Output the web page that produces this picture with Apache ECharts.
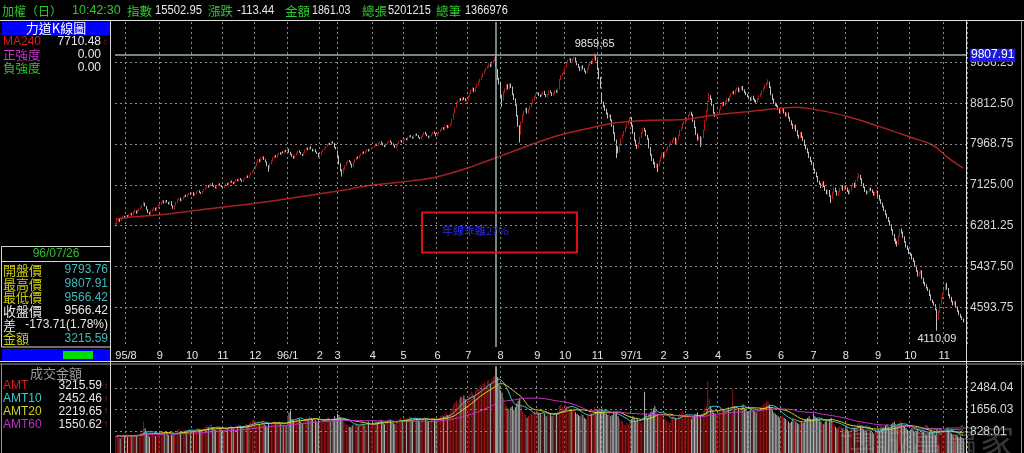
<!DOCTYPE html>
<html><head><meta charset="utf-8">
<script src="https://cdn.jsdelivr.net/npm/echarts@6/dist/echarts.min.js"></script>
<style>html,body{margin:0;padding:0;background:#000;overflow:hidden}#c{width:1024px;height:453px}</style>
</head><body><div id="c"></div>
<script>
// ---------------- data ----------------
const monthStarts = [7,30,52,73,95,117,139,151,175,196,219,240,262,287,306,328,331,351,373,388,410,431,453,475,497,519,541,564];
const monthLabels = ['95/8','9','10','11','12','96/1','2','3','4','5','6','7','8','9','10','11','','97/1','2','3','4','5','6','7','8','9','10','11'];
const priceTicks = [4593.75,5437.50,6281.25,7125.00,7968.75,8812.50,9656.25];
const amtTicks = [828.01,1656.03,2484.04];
const cursorIndex = 259;
const cursorPrice = 9807.91;
const peakIndex = 326;
const lowIndex = 559;

const OPEN = [
6290,6340,6400,6410,6390,6445,6475,
6460,6485,6465,6515,6535,6505,6565,6585,6545,6605,6625,6655,6705,6750,6680,6615,6555,6525,6585,6615,6645,6605,6655,
6705,6725,6765,6795,6745,6805,6765,6725,6785,6695,6635,6695,6765,6825,6855,6795,6835,6875,6905,6875,6925,6955,
6935,6965,6905,6945,6985,7005,6965,6955,6995,7035,7065,7105,7075,7135,7155,7105,7085,7055,7105,7145,7115,
7085,7075,7115,7155,7125,7175,7205,7175,7145,7195,7235,7205,7255,7225,7195,7245,7275,7305,7275,7335,7375,7415,
7460,7525,7585,7645,7605,7685,7705,7645,7595,7515,7475,7565,7625,7685,7725,7695,7755,7785,7755,7805,7785,7825,
7835,7865,7795,7755,7715,7695,7745,7785,7825,7795,7755,7745,7795,7845,7885,7855,7905,7865,7825,7855,7805,7775,
7695,7745,7805,7855,7885,7925,7955,7985,7965,8005,7985,7895,
7830,7715,7555,7425,7375,7455,7525,7585,7625,7595,7555,7495,7585,7645,7705,7675,7735,7765,7805,7775,7825,7855,7825,7875,
7885,7905,7935,7965,7935,7985,8015,7985,7945,7915,7975,8005,8035,8005,7975,7945,7895,7935,7985,8025,8045,
8015,8055,8085,8055,8105,8145,8115,8085,8135,8175,8145,8105,8075,8125,8165,8205,8175,8135,8095,8135,8175,8215,8185,
8145,8185,8225,8265,8305,8275,8325,8355,8305,8345,8385,8485,8605,8725,8825,8865,8905,8875,8925,8905,8865,
8885,8955,9015,9085,9125,9055,9145,9205,9265,9305,9365,9425,9485,9535,9565,9625,9585,9655,9695,9793.76,9500,9300,
9250,8950,8870,9045,9105,9185,9115,9205,9145,8995,8895,8770,8550,8340,8175,8425,8565,8645,8705,8615,8685,8745,8805,8885,8945,
9005,9025,8975,8955,9015,9055,8995,8945,8995,9065,9035,8975,9015,9075,9035,9105,9305,9385,9425,
9455,9565,9655,9705,9735,9685,9725,9755,9675,9615,9555,9495,9585,9525,9475,9455,9525,9605,9665,9635,9725,9795,
9700,9515,9335,
9000,8815,8745,8675,8595,8515,8565,8465,8345,8195,8045,7895,7815,7955,8085,8155,8225,8305,8385,8455,
8500,8345,8195,8045,7945,7895,7985,8105,8205,8285,8245,8145,8075,7895,7745,7645,7575,7495,7545,7515,7615,7705,
7785,7715,7805,7855,7905,7965,8005,8055,8105,7975,8065,8155,8255,8305,8385,
8425,8445,8505,8565,8625,8575,8445,8315,8175,8055,8125,7985,8105,8255,8455,8655,8855,8955,8895,8775,8615,8545,
8575,8605,8685,8755,8825,8775,8855,8905,8865,8955,9005,9055,9015,9085,9125,9055,9105,9155,9085,9035,8995,
8955,8915,8875,8955,8895,8855,8845,8905,8965,9005,9065,9125,9185,9225,9245,9145,8995,8895,8815,8775,8755,8695,
8615,8655,8705,8615,8555,8605,8515,8445,8375,8295,8355,8245,8145,8105,8205,8115,8045,7945,7875,7795,7695,7615,
7555,7445,7375,7295,7195,7145,7075,7185,7095,7015,6945,7005,6895,6845,6955,7055,6995,6915,6985,7055,7105,7015,
7085,7045,6995,6945,7025,7105,7155,7075,7205,7285,7315,7245,7145,7075,6995,6945,6985,7055,7015,6975,6915,6965,
6995,6905,6815,6745,6675,6595,6515,6445,6375,6295,6195,6095,5995,5945,5905,6055,6185,6145,6045,5945,5845,5795,
5715,5675,5595,5545,5445,5345,5245,5295,5345,5195,5095,5045,4995,4945,4845,4745,4695,4645,4545,4365,4505,4655,4785,
4875,4955,5025,4975,4845,4795,4715,4645,4705,4595,4515,4445,4395,4345
];
const HIGH = [
6345,6410,6440,6425,6450,6490,6485,
6495,6500,6525,6550,6545,6575,6610,6595,6615,6640,6670,6720,6780,6760,6690,6625,6565,6595,6625,6660,6655,6665,6715,
6735,6775,6810,6805,6815,6815,6775,6795,6790,6705,6700,6770,6830,6865,6860,6840,6885,6915,6920,6935,6965,6970,
6975,6975,6950,6990,7015,7015,6975,7000,7040,7070,7115,7120,7140,7165,7170,7115,7095,7110,7155,7160,7125,
7100,7120,7160,7165,7180,7210,7215,7185,7200,7240,7245,7260,7265,7235,7250,7280,7315,7320,7340,7385,7420,7465,
7530,7595,7660,7660,7695,7720,7715,7655,7605,7530,7575,7635,7695,7735,7740,7765,7795,7800,7815,7820,7835,7850,
7880,7875,7810,7770,7730,7755,7795,7835,7840,7805,7765,7800,7855,7895,7900,7915,7920,7875,7865,7865,7815,7785,
7750,7815,7865,7895,7935,7965,7995,7995,8015,8030,7995,7910,
7840,7730,7570,7450,7470,7535,7595,7635,7640,7610,7565,7595,7655,7715,7715,7745,7775,7815,7815,7835,7865,7865,7885,7900,
7915,7945,7975,7975,7995,8025,8025,7995,7955,7985,8015,8045,8045,8015,7985,7955,7945,7995,8035,8055,8055,
8065,8095,8095,8115,8155,8155,8125,8145,8185,8185,8155,8115,8135,8175,8215,8220,8185,8145,8145,8185,8225,8230,8195,
8195,8235,8275,8315,8320,8335,8365,8365,8355,8395,8495,8615,8735,8840,8880,8920,8920,8940,8940,8920,8900,
8965,9025,9095,9140,9135,9155,9215,9275,9320,9375,9440,9495,9545,9585,9640,9635,9670,9710,9760,9807.91,9520,9340,
9260,8990,9060,9120,9200,9210,9220,9225,9160,9010,8910,8790,8570,8360,8440,8580,8660,8720,8720,8700,8760,8820,8900,8960,9020,
9045,9040,8995,9025,9065,9070,9005,9005,9075,9080,9045,9025,9085,9090,9115,9315,9395,9435,9470,
9575,9665,9720,9760,9745,9740,9775,9765,9690,9630,9570,9595,9600,9540,9490,9535,9615,9680,9690,9735,9859.65,9810,
9720,9540,9360,
9020,8850,8770,8700,8620,8580,8580,8480,8360,8210,8060,7920,7965,8095,8170,8240,8320,8400,8470,8530,
8530,8370,8215,8060,7970,8000,8120,8215,8300,8310,8260,8160,8090,7910,7760,7670,7600,7570,7560,7630,7720,7800,
7800,7820,7870,7920,7980,8020,8070,8120,8110,8080,8170,8270,8320,8400,8440,
8470,8520,8580,8640,8640,8590,8460,8330,8190,8140,8130,8120,8270,8470,8670,8870,9030,8980,8910,8790,8630,8590,
8620,8700,8770,8840,8840,8870,8920,8920,8970,9020,9070,9070,9100,9140,9140,9120,9170,9170,9100,9050,9010,
8970,8940,8970,8970,8910,8880,8920,8980,9020,9080,9140,9200,9240,9309,9260,9160,9010,8910,8830,8800,8770,8710,
8680,8720,8720,8630,8620,8620,8530,8460,8390,8370,8370,8260,8160,8220,8220,8130,8060,7960,7890,7810,7710,7630,
7570,7460,7390,7310,7210,7160,7200,7200,7110,7030,7020,7020,6910,6970,7070,7070,7010,7000,7070,7120,7120,7100,
7100,7070,7010,7040,7120,7170,7170,7220,7300,7370,7330,7260,7160,7090,7010,7000,7070,7070,7030,6990,6980,7020,
7010,6920,6830,6760,6690,6610,6530,6460,6390,6310,6210,6110,6020,5970,6080,6210,6220,6160,6060,5960,5870,5810,
5730,5700,5620,5560,5460,5360,5320,5370,5360,5210,5120,5070,5010,4960,4860,4760,4710,4660,4560,4520,4670,4800,4890,
4970,5080,5100,4990,4870,4810,4730,4720,4720,4610,4530,4460,4410,4360
];
const LOW = [
6260,6320,6370,6360,6380,6430,6440,
6450,6445,6455,6500,6490,6495,6550,6530,6535,6590,6615,6645,6695,6680,6610,6545,6505,6515,6575,6600,6590,6595,6645,
6690,6715,6755,6740,6740,6760,6720,6715,6690,6630,6620,6690,6755,6815,6790,6785,6825,6865,6870,6865,6915,6920,
6925,6900,6895,6935,6975,6960,6935,6945,6985,7025,7055,7070,7070,7125,7100,7080,7050,7045,7095,7110,7080,
7060,7065,7105,7120,7115,7165,7170,7140,7135,7185,7200,7195,7220,7190,7185,7235,7265,7270,7265,7325,7365,7405,
7450,7510,7570,7595,7595,7670,7640,7590,7510,7400,7460,7550,7610,7675,7690,7685,7745,7750,7745,7780,7775,7800,
7820,7790,7745,7705,7665,7685,7735,7775,7790,7750,7720,7735,7785,7835,7845,7845,7860,7815,7815,7800,7765,7690,
7685,7735,7795,7845,7875,7915,7945,7950,7955,7980,7890,7860,
7700,7545,7400,7300,7360,7440,7515,7575,7590,7545,7480,7490,7575,7635,7665,7670,7725,7755,7770,7770,7815,7815,7815,7860,
7870,7895,7925,7930,7925,7975,7980,7940,7905,7905,7965,7995,8000,7970,7940,7890,7880,7925,7975,8015,8000,
8005,8045,8050,8045,8095,8110,8080,8075,8125,8140,8100,8070,8065,8115,8155,8170,8130,8090,8085,8125,8165,8180,8130,
8130,8175,8215,8255,8265,8265,8315,8295,8295,8335,8375,8475,8595,8715,8810,8850,8860,8860,8880,8855,8850,
8870,8940,9005,9070,9040,9045,9135,9190,9250,9290,9350,9415,9470,9520,9550,9560,9570,9640,9680,9566.42,9300,9200,
8930,8740,8860,9020,9090,9100,9100,9130,8980,8880,8760,8540,8330,8000,8160,8410,8550,8630,8600,8600,8670,8730,8790,8870,8930,
8990,8965,8940,8945,9000,8985,8935,8930,8985,9030,8965,8960,9005,9030,9020,9095,9290,9370,9410,
9440,9550,9640,9690,9670,9675,9710,9670,9600,9545,9480,9480,9515,9465,9420,9440,9510,9590,9625,9625,9710,9690,
9500,9310,9120,
8800,8730,8660,8580,8500,8500,8450,8330,8180,8030,7680,7780,7800,7940,8070,8140,8210,8290,8370,8440,
8330,8180,8030,7930,7870,7880,7970,8090,8190,8230,8130,8060,7880,7730,7620,7550,7470,7480,7390,7500,7600,7690,
7700,7700,7790,7840,7895,7950,7990,8040,7960,7960,8050,8140,8240,8290,8370,
8410,8430,8490,8550,8560,8430,8300,8160,8040,8040,7910,7970,8090,8240,8440,8640,8840,8880,8760,8600,8530,8530,
8560,8590,8670,8740,8760,8760,8840,8850,8850,8940,8990,9000,9000,9070,9040,9040,9090,9070,9020,8980,8940,
8900,8860,8860,8880,8840,8820,8830,8890,8950,8990,9050,9110,9170,9200,9130,8980,8880,8800,8760,8740,8680,8600,
8600,8640,8600,8540,8540,8500,8430,8360,8280,8280,8230,8130,8080,8090,8100,8030,7930,7860,7780,7680,7600,7540,
7430,7360,7280,7180,7130,7060,7060,7080,7000,6930,6930,6880,6750,6830,6940,6980,6900,6900,6970,7040,7000,7000,
7030,6980,6930,6930,7010,7090,7060,7060,7190,7270,7230,7130,7060,6980,6930,6930,6970,7000,6960,6900,6900,6950,
6880,6800,6730,6660,6580,6500,6430,6360,6280,6180,6080,5960,5900,5850,5890,6040,6120,6030,5930,5830,5780,5690,
5660,5580,5530,5430,5330,5230,5230,5280,5180,5080,5030,4980,4930,4830,4730,4680,4630,4530,4110.09,4330,4480,4640,4760,
4860,4940,4960,4830,4780,4700,4630,4630,4590,4500,4430,4380,4330,4280
];
const CLOSE = [
6330,6395,6420,6385,6440,6470,6455,
6480,6460,6510,6530,6500,6560,6590,6540,6600,6620,6650,6700,6740,6690,6620,6560,6520,6580,6610,6640,6600,6650,6700,
6720,6760,6790,6750,6800,6770,6730,6780,6700,6640,6690,6760,6820,6850,6800,6830,6870,6900,6880,6920,6950,6930,
6960,6910,6940,6980,7000,6970,6950,6990,7030,7060,7100,7080,7130,7150,7110,7090,7060,7100,7140,7120,7090,
7080,7110,7150,7130,7170,7200,7180,7150,7190,7230,7210,7250,7230,7200,7240,7270,7300,7280,7330,7370,7410,7450,
7520,7580,7640,7610,7680,7700,7650,7600,7520,7480,7560,7620,7680,7720,7700,7750,7780,7760,7800,7790,7820,7823,
7860,7800,7760,7720,7690,7740,7780,7820,7800,7760,7740,7790,7840,7880,7860,7900,7870,7830,7850,7810,7780,7700,
7740,7800,7850,7880,7920,7950,7980,7960,8000,7990,7900,7880,
7720,7560,7420,7380,7450,7520,7580,7620,7600,7560,7500,7580,7640,7700,7680,7730,7760,7800,7780,7820,7850,7830,7870,7880,
7900,7930,7960,7940,7980,8010,7990,7950,7920,7970,8000,8030,8010,7980,7950,7900,7930,7980,8020,8040,8010,
8050,8080,8060,8100,8140,8120,8090,8130,8170,8150,8110,8080,8120,8160,8200,8180,8140,8100,8130,8170,8210,8190,8140,
8180,8220,8260,8300,8280,8320,8350,8310,8340,8380,8480,8600,8720,8820,8860,8900,8880,8920,8900,8870,8880,
8950,9010,9080,9120,9060,9140,9200,9260,9300,9360,9420,9480,9530,9560,9620,9580,9650,9690,9740.13,9566.42,9330,9250,
8960,8880,9040,9100,9180,9120,9200,9150,9000,8900,8780,8560,8350,8180,8420,8560,8640,8700,8620,8680,8740,8800,8880,8940,9000,
9020,8980,8960,9010,9050,9000,8950,8990,9060,9040,8980,9010,9070,9040,9100,9300,9380,9420,9450,
9560,9650,9700,9730,9690,9720,9750,9680,9620,9560,9500,9580,9530,9480,9460,9520,9600,9660,9640,9720,9800,9711,
9520,9340,9150,
8820,8750,8680,8600,8520,8560,8470,8350,8200,8050,7900,7820,7950,8080,8150,8220,8300,8380,8450,8506,
8350,8200,8050,7950,7900,7980,8100,8200,8280,8250,8150,8080,7900,7750,7650,7580,7500,7540,7520,7610,7700,7780,
7720,7800,7850,7900,7960,8000,8050,8100,7980,8060,8150,8250,8300,8380,8420,
8450,8500,8560,8620,8580,8450,8320,8180,8060,8120,7990,8100,8250,8450,8650,8850,8950,8900,8780,8620,8550,8570,
8600,8680,8750,8820,8780,8850,8900,8870,8950,9000,9050,9020,9080,9120,9060,9100,9150,9090,9040,9000,8960,
8920,8880,8950,8900,8860,8840,8900,8960,9000,9060,9120,9180,9220,9250,9150,9000,8900,8820,8780,8760,8700,8620,
8650,8700,8620,8560,8600,8520,8450,8380,8300,8350,8250,8150,8100,8200,8120,8050,7950,7880,7800,7700,7620,7560,
7450,7380,7300,7200,7150,7080,7180,7100,7020,6950,7000,6900,6850,6950,7050,7000,6920,6980,7050,7100,7020,7080,
7050,7000,6950,7020,7100,7150,7080,7200,7280,7320,7250,7150,7080,7000,6950,6980,7050,7020,6980,6920,6960,7000,
6900,6820,6750,6680,6600,6520,6450,6380,6300,6200,6100,6000,5950,5900,6050,6180,6150,6050,5950,5850,5800,5720,
5680,5600,5550,5450,5350,5250,5300,5350,5200,5100,5050,5000,4950,4850,4750,4700,4650,4550,4366,4500,4650,4780,4870,
4950,5020,4980,4850,4800,4720,4650,4700,4600,4520,4450,4400,4350,4300
];
const AMOUNT = [
620,700,680,560,640,700,660,
720,600,650,700,620,680,720,650,700,740,780,900,1200,950,780,700,620,680,720,740,650,700,760,
780,820,850,760,800,740,680,720,700,760,690,780,880,920,800,820,860,900,850,880,920,880,
900,820,840,900,960,880,820,860,940,980,1050,990,1080,1100,980,920,880,940,1000,960,900,
880,920,980,940,1000,1050,1000,940,980,1060,1020,1080,1040,960,1020,1080,1120,1060,1150,1200,1240,1280,
1200,1150,1220,1100,1180,1240,1120,1060,1000,1150,1080,1140,1180,1220,1100,1150,1200,1120,1160,1080,1100,1050,
1400,1550,1620,1300,1250,1200,1280,1350,1300,1200,1150,1250,1300,1380,1320,1400,1350,1280,1300,1250,1180,1300,
1200,1150,1250,1280,1300,1350,1380,1200,1250,1300,1400,1250,
1500,1450,1350,1300,1200,1150,1100,1050,1000,980,1050,1100,1080,1150,1050,1100,1150,1200,1100,1050,1150,1200,1100,1050,
1150,1200,1250,1180,1220,1300,1250,1150,1100,1200,1250,1300,1280,1200,1150,1100,1180,1250,1300,1350,1250,
1300,1350,1280,1320,1400,1350,1250,1300,1380,1320,1250,1200,1280,1320,1380,1300,1250,1180,1220,1280,1350,1300,1250,
1300,1350,1400,1450,1400,1480,1550,1450,1500,1600,1700,1850,1950,2000,1900,2050,2150,2100,2200,2050,2000,
2150,2250,2350,2300,2200,2400,2500,2450,2600,2550,2650,2700,2600,2750,2800,2650,2850,2900,2950,3215.59,2900,2600,
2400,2300,2100,1900,1800,1700,1650,1750,1800,1650,1750,1900,2000,2100,1800,1600,1500,1450,1350,1400,1450,1500,1550,1600,1550,
1600,1550,1500,1450,1600,1500,1400,1450,1550,1500,1400,1450,1550,1500,1600,1800,1850,1750,1700,
2170,1800,1750,1700,1650,1600,1700,1550,1500,1450,1400,1500,1450,1350,1300,1400,1500,1600,1500,1650,1750,1600,
1650,1700,1600,
1700,1600,1550,1500,1450,1500,1400,1450,1600,1500,1550,1400,1300,1250,1200,1100,1050,1150,1100,1200,
1300,1400,1350,1250,1300,1250,1200,1150,1300,2340,1500,1350,1450,1550,1600,1700,1800,1650,1500,1400,1500,1450,
1300,1350,1250,1200,1150,1300,1400,1450,1350,1300,1400,1500,1550,1600,1500,
1500,1450,1400,1350,1300,1400,1450,1500,1550,1400,1450,1500,1600,1700,1800,2750,2060,1800,1650,1550,1500,1450,
1500,1600,1650,1700,1650,1600,1700,1750,1650,1600,2440,1750,1800,1750,1700,1650,1800,1850,1700,1650,1600,
1600,1650,1700,1650,1600,1550,1650,1700,1750,1800,1850,1900,1950,2000,1850,1750,1650,1550,1500,1450,1400,1350,
1400,1450,1350,1300,1250,1200,1150,1200,1300,1250,1200,1150,1100,1250,1200,1150,1250,1300,1350,1400,1300,1250,
1500,1400,1350,1300,1250,1200,1150,1100,1200,1250,1150,1300,1350,1200,1100,1000,950,1000,1050,1000,950,900,
950,900,850,900,950,1000,950,1050,1100,1150,1050,950,900,850,800,850,900,850,800,750,800,850,
900,850,900,950,1000,1050,1100,1000,950,1100,1150,1200,1100,1050,1150,1250,1150,1050,1000,950,900,850,
900,950,850,800,850,900,800,750,800,850,750,700,750,800,850,800,750,700,900,850,950,900,850,
850,900,950,850,800,750,700,650,700,650,600,650,600,550
];
// MA240 line: [day index, value]
const MA240 = [[0,6420],[12,6467],[28,6502],[57,6606],[103,6777],[148,6984],[175,7123],[196,7190],[216,7275],[228,7365],[239,7468],[250,7590],[262,7720],[282,7950],[302,8150],[323,8300],[338,8400],[364,8460],[384,8470],[407,8570],[430,8640],[452,8710],[464,8730],[475,8690],[498,8540],[520,8330],[543,8090],[556,7950],[566,7700],[577,7470]];

// ---------------- build ----------------
const N = 580;
const cats = Array.from({length: N}, (_, i) => String(i));
const startMap = new Map(monthStarts.map((s, k) => [s, monthLabels[k]]));
const isStart = (i) => startMap.has(i);
const candles = CLOSE.map((c, i) => [OPEN[i], c, LOW[i], HIGH[i]]);
const upDay = CLOSE.map((c, i) => c >= OPEN[i]);
function movAvg(arr, n) {
  return arr.map((_, i) => { const s = Math.max(0, i - n + 1); let t = 0; for (let k = s; k <= i; k++) t += arr[k]; return +(t / (i - s + 1)).toFixed(2); });
}
const RED = '#b01818', GRAY = '#c0c0c0';
const NUMF = "'Liberation Sans', Arial, sans-serif";
const CJK = "'Noto Sans CJK TC', 'Noto Sans CJK SC', sans-serif";
const GRID_L = 115, GRID_W = 852;
const gridLine = {type: [2, 3], color: '#8a8a8a', width: 1};

const G = [];
function T(x, y, text, fill, font, align, sx) {
  G.push({type: 'text', silent: true, z: 100, x, y, scaleX: sx || 1, style: {x: 0, y: 0, text, fill, font, textAlign: align || 'left', align: align || 'left', textVerticalAlign: 'middle', verticalAlign: 'middle'}});
}
function R(x, y, w, h, fill, stroke, lw) {
  G.push({type: 'rect', silent: true, z: 90, shape: {x, y, width: w, height: h}, style: {fill: fill || 'none', stroke: stroke || 'none', lineWidth: lw || 1}});
}
function L(x1, y1, x2, y2, stroke, lw) {
  G.push({type: 'line', silent: true, z: 95, shape: {x1, y1, x2, y2}, style: {stroke, lineWidth: lw || 1}});
}
// header
const GREEN = '#2ccc2c', WHITE = '#e8e8e8';
T(2, 11, '加權（日）', GREEN, '12px ' + CJK);
T(72, 11, '10:42:30', GREEN, '12.5px ' + NUMF);
T(127, 11, '指數', GREEN, '12.5px ' + CJK);
T(155, 11, '15502.95', WHITE, '12.5px ' + NUMF, 'left', 0.9);
T(208, 11, '漲跌', GREEN, '12.5px ' + CJK);
T(237, 11, '-113.44', WHITE, '12.5px ' + NUMF, 'left', 0.9);
T(285, 11, '金額', GREEN, '12.5px ' + CJK);
T(312, 11, '1861.03', WHITE, '12.5px ' + NUMF, 'left', 0.85);
T(362, 11, '總張', GREEN, '12.5px ' + CJK);
T(388, 11, '5201215', WHITE, '12.5px ' + NUMF, 'left', 0.88);
T(436, 11, '總筆', GREEN, '12.5px ' + CJK);
T(465, 11, '1366976', WHITE, '12.5px ' + NUMF, 'left', 0.88);
// frame lines
L(0, 20.5, 1024, 20.5, '#e0e0e0');
L(110.5, 20, 110.5, 453, '#d8d8d8');
L(966.5, 20, 966.5, 453, '#d8d8d8');
L(0, 361.5, 1024, 361.5, '#e0e0e0');
L(0, 364, 1024, 364, '#a0a0a0');
L(1.5, 364, 1.5, 453, '#909090');
L(1021.5, 20, 1021.5, 453, '#909090');
// left panel top
R(2, 21.5, 108, 13.5, '#0000ff');
T(56, 28.5, '力道K線圖', '#ffffff', '13px ' + CJK, 'center');
T(3, 42, 'MA240', '#d41c1c', '12px ' + NUMF);
T(101, 42, '7710.48', WHITE, '12px ' + NUMF, 'right');
T(105, 42, '↑', '#d41c1c', '10px ' + NUMF, 'center');
T(3, 55, '正強度', '#cc33cc', '12.5px ' + CJK);
T(101, 55, '0.00', WHITE, '12px ' + NUMF, 'right');
T(3, 68, '負強度', '#22cc22', '12.5px ' + CJK);
T(101, 68, '0.00', WHITE, '12px ' + NUMF, 'right');
// left panel quote box
R(1.5, 246.5, 109, 100.5, 'none', '#d8d8d8');
T(56, 254, '96/07/26', '#2cc02c', '12px ' + NUMF, 'center');
L(1.5, 261.5, 110, 261.5, '#d8d8d8');
const YEL = '#cccc10', CYAN = '#3cbcbc';
const rows = [['開盤價', '9793.76', YEL, CYAN], ['最高價', '9807.91', YEL, CYAN], ['最低價', '9566.42', YEL, CYAN], ['收盤價', '9566.42', WHITE, WHITE], ['差', '-173.71(1.78%)', WHITE, WHITE], ['金額', '3215.59', YEL, CYAN]];
rows.forEach((r, k) => { const y = 270 + k * 13.7; T(3, y, r[0], r[2], '13px ' + CJK); T(108, y, r[1], r[3], '12px ' + NUMF, 'right'); });
R(2, 349, 108, 12, '#0000ff');
R(63, 351, 30, 8, '#00dd00');
// volume left panel
T(56, 373, '成交金額', '#9a9a9a', '13px ' + CJK, 'center');
const amtRows = [['AMT', '3215.59', '#d42020'], ['AMT10', '2452.46', '#3cc8c8'], ['AMT20', '2219.65', '#d0d020'], ['AMT60', '1550.62', '#c030c0']];
amtRows.forEach((r, k) => { const y = 386 + k * 12.8; T(3, y, r[0], r[2], '12px ' + NUMF); T(102, y, r[1], WHITE, '12px ' + NUMF, 'right'); T(106, y, '↑', '#d42020', '10px ' + NUMF, 'center'); });
// annotation box
R(422, 212.5, 155, 40, 'none', '#e01010', 2);
T(442, 231, '年線乖離27%', '#2a2ae6', '11px ' + CJK);
// watermark
G.push({type: 'text', silent: true, z: 120, x: 927, y: 442, style: {x: 0, y: 0, text: '博誠富贏家', fill: 'rgba(170,170,170,0.32)', font: '35px ' + CJK, textAlign: 'center', align: 'center', textVerticalAlign: 'middle', verticalAlign: 'middle'}});

const lblStyle = {show: true, position: 'end', distance: 3, color: '#d8d8d8', fontSize: 12, fontFamily: NUMF, formatter: (p) => Number(p.value).toFixed(2)};

const option = {
  backgroundColor: '#000',
  animation: false,
  graphic: G,
  grid: [
    {left: GRID_L, top: 22, width: GRID_W, height: 325},
    {left: GRID_L, top: 366, width: GRID_W, height: 97.6}
  ],
  xAxis: [
    {type: 'category', gridIndex: 0, data: cats, boundaryGap: true,
     axisLine: {show: false}, axisTick: {show: false},
     axisLabel: {show: true, interval: (i) => isStart(i), formatter: (v, i) => startMap.get(i) || '', color: '#e6e6e6', fontSize: 11, fontFamily: NUMF, margin: 3},
     splitLine: {show: true, interval: (i) => isStart(i), lineStyle: gridLine}},
    {type: 'category', gridIndex: 1, data: cats, boundaryGap: true,
     axisLine: {show: false}, axisTick: {show: false}, axisLabel: {show: false},
     splitLine: {show: true, interval: (i) => isStart(i), lineStyle: gridLine}}
  ],
  yAxis: [
    {type: 'value', gridIndex: 0, min: 3773, max: 10494, position: 'right', axisLine: {show: false}, axisTick: {show: false}, axisLabel: {show: false}, splitLine: {show: false}},
    {type: 'value', gridIndex: 1, min: 0, max: 3325, position: 'right', axisLine: {show: false}, axisTick: {show: false}, axisLabel: {show: false}, splitLine: {show: false}}
  ],
  series: [
    {type: 'candlestick', name: 'K', xAxisIndex: 0, yAxisIndex: 0, data: candles, barWidth: 1, large: false,
     itemStyle: {color: RED, color0: GRAY, borderColor: RED, borderColor0: GRAY, borderWidth: 1},
     markLine: {silent: true, symbol: ['none', 'none'], animation: false, lineStyle: gridLine, label: lblStyle,
       data: priceTicks.map(v => ({yAxis: v})).concat([
         {xAxis: cursorIndex, lineStyle: {type: 'solid', color: '#98b0b0', width: 1.5}, label: {show: false}},
         {yAxis: cursorPrice, lineStyle: {type: 'solid', color: '#98b0b0', width: 1.5},
          label: {show: true, position: 'end', distance: 3, formatter: cursorPrice.toFixed(2), color: '#ffffff', backgroundColor: '#1c1cd8', fontSize: 12, fontFamily: NUMF, padding: [1, 1, 0, 1]}}
       ])},
     markPoint: {silent: true, symbol: 'circle', symbolSize: 1, itemStyle: {color: 'rgba(0,0,0,0)'}, animation: false,
       label: {show: true, color: '#e8e8e8', fontSize: 11, fontFamily: NUMF, formatter: (p) => Number(p.value).toFixed(2)},
       data: [
         {coord: [peakIndex, HIGH[peakIndex]], value: HIGH[peakIndex], label: {position: 'top', distance: 3}},
         {coord: [lowIndex, LOW[lowIndex]], value: LOW[lowIndex], label: {position: 'bottom', distance: 2}}
       ]}},
    {type: 'line', name: 'MA240', xAxisIndex: 0, yAxisIndex: 0, data: MA240, smooth: 0.4, showSymbol: false, symbol: 'none',
     lineStyle: {color: '#a82020', width: 1.5}, z: 3},
    {type: 'bar', name: 'AMT', xAxisIndex: 1, yAxisIndex: 1, barWidth: 1,
     data: AMOUNT.map((v, i) => ({value: v, itemStyle: {color: upDay[i] ? '#a01414' : '#b4b4b4'}})),
     markLine: {silent: true, symbol: ['none', 'none'], animation: false, lineStyle: gridLine, label: lblStyle,
       data: amtTicks.map(v => ({yAxis: v})).concat([{xAxis: cursorIndex, lineStyle: {type: 'solid', color: '#98b0b0', width: 1.5}, label: {show: false}}])}},
    {type: 'line', name: 'AMT10', xAxisIndex: 1, yAxisIndex: 1, data: movAvg(AMOUNT, 10), showSymbol: false, symbol: 'none', lineStyle: {color: '#3cc8c8', width: 1}, z: 4},
    {type: 'line', name: 'AMT20', xAxisIndex: 1, yAxisIndex: 1, data: movAvg(AMOUNT, 20), showSymbol: false, symbol: 'none', lineStyle: {color: '#d8d820', width: 1}, z: 4},
    {type: 'line', name: 'AMT60', xAxisIndex: 1, yAxisIndex: 1, data: movAvg(AMOUNT, 60), showSymbol: false, symbol: 'none', lineStyle: {color: '#c832c8', width: 1}, z: 4}
  ]
};
const chart = echarts.init(document.getElementById('c'), null, {renderer: 'canvas'});
chart.setOption(option);
</script>
</body></html>
